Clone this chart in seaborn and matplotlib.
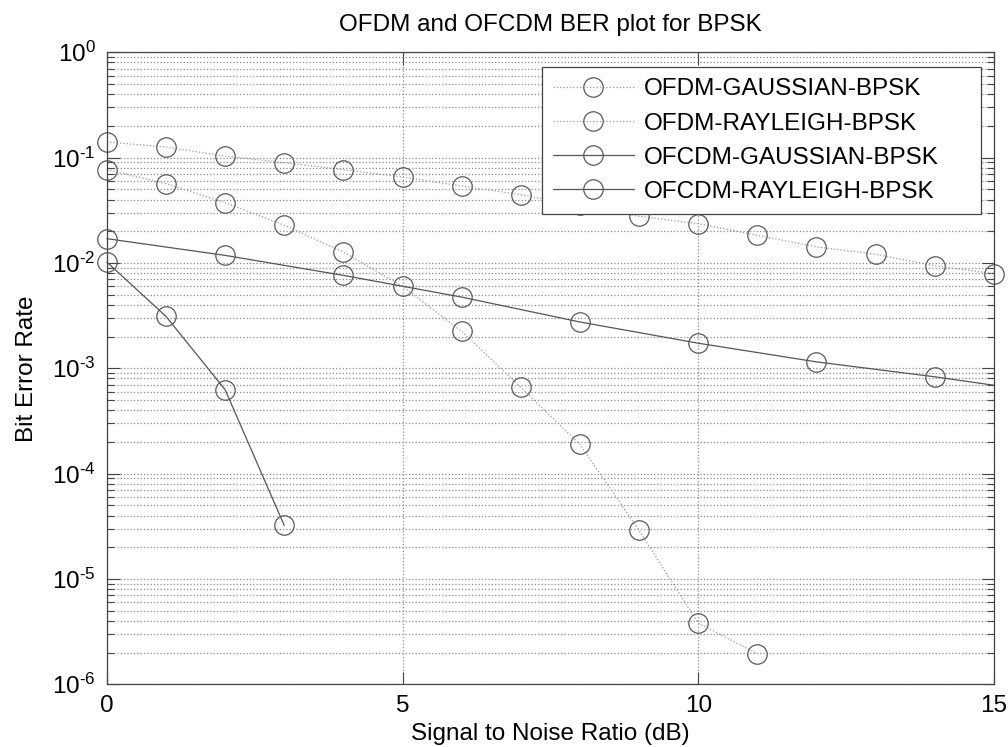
import numpy as np
import pandas as pd
import matplotlib
matplotlib.use("Agg")
import matplotlib.pyplot as plt
import seaborn as sns
from matplotlib.ticker import LogLocator, FixedLocator, NullFormatter, FuncFormatter

# ---- data ----
snr_ofdm_gauss = [0, 1, 2, 3, 4, 5, 6, 7, 8, 9, 10, 11, 12, 13, 14, 15]
ber_ofdm_gauss = [0.141, 0.126, 0.1035, 0.0896, 0.0769, 0.0655, 0.0537, 0.0445,
                  0.0352, 0.0277, 0.0236, 0.0183, 0.0142, 0.0121, 0.0094, 0.0079]

snr_ofdm_ray = [0, 1, 2, 3, 4, 5, 6, 7, 8, 9, 10, 11]
ber_ofdm_ray = [0.0769, 0.0566, 0.0374, 0.0228, 0.0127, 0.0060, 0.00224, 0.00066,
                0.000189, 2.89e-5, 3.81e-6, 1.95e-6]

snr_ofcdm_gauss = [0, 1, 2, 3]
ber_ofcdm_gauss = [0.0102, 0.00311, 0.000626, 3.22e-5]

snr_ofcdm_ray = [0, 2, 4, 6, 8, 10, 12, 14, 15]
ber_ofcdm_ray = [0.0170, 0.0118, 0.00762, 0.00474, 0.00275, 0.00173, 0.00115, 0.00083, 0.00069]

labels = ["OFDM-GAUSSIAN-BPSK", "OFDM-RAYLEIGH-BPSK",
          "OFCDM-GAUSSIAN-BPSK", "OFCDM-RAYLEIGH-BPSK"]

title = "OFDM and OFCDM BER plot for BPSK"
xlabel = "Signal to Noise Ratio (dB)"
ylabel = "Bit Error Rate"
xticks = [0, 5, 10, 15]

# ---- style ----
sns.set_style("ticks")
plt.rcParams['font.family'] = ['Liberation Sans', 'DejaVu Sans']
plt.rcParams['mathtext.fontset'] = 'custom'
plt.rcParams['mathtext.rm'] = 'Liberation Sans'
plt.rcParams['mathtext.it'] = 'Liberation Sans'
plt.rcParams['mathtext.bf'] = 'Liberation Sans'
plt.rcParams['text.color'] = 'black'
plt.rcParams['axes.labelcolor'] = 'black'

fig = plt.figure(figsize=(10.08, 7.47), dpi=100)
ax = fig.add_axes([0.106, 0.084, 0.880, 0.846])

dot_col = "#9a9a9a"
solid_col = "#555555"
mk_col = "#5a5a5a"
ms = 14
fs = 17.5

series = [
    (snr_ofdm_gauss, ber_ofdm_gauss, ":", dot_col, None),
    (snr_ofdm_ray, ber_ofdm_ray, ":", dot_col, None),
    (snr_ofcdm_gauss, ber_ofcdm_gauss, "-", solid_col, None),
    (snr_ofcdm_ray, ber_ofcdm_ray, "-", solid_col, list(range(len(snr_ofcdm_ray) - 1))),
]

for (xs, ys, ls, col, mev), lab in zip(series, labels):
    df = pd.DataFrame({"snr": xs, "ber": ys})
    kw = dict(x="snr", y="ber", data=df, ax=ax, color=col, linestyle=ls,
              linewidth=0.9, marker="o", markersize=ms, markerfacecolor="none",
              markeredgecolor=mk_col, markeredgewidth=0.9, label=lab,
              clip_on=False, sort=False, estimator=None)
    if mev is not None:
        kw["markevery"] = mev
    sns.lineplot(**kw)

ax.set_yscale("log")
ax.set_xlim(0, 15)
ax.set_ylim(1e-6, 1)
ax.xaxis.set_major_locator(FixedLocator(xticks))
ax.yaxis.set_major_locator(LogLocator(base=10, numticks=10))
ax.yaxis.set_minor_locator(LogLocator(base=10, subs=np.arange(2, 10), numticks=100))
ax.yaxis.set_minor_formatter(NullFormatter())


def sci_fmt(v, pos):
    e = int(round(np.log10(v)))
    if e < 0:
        return r"$10^{\text{-}%d}$" % (-e)
    return r"$10^{%d}$" % e


ax.yaxis.set_major_formatter(FuncFormatter(sci_fmt))

ax.grid(which="major", axis="both", linestyle=":", color="#8a8a8a", linewidth=0.9)
ax.grid(which="minor", axis="y", linestyle=":", color="#8a8a8a", linewidth=0.9)
ax.set_axisbelow(True)

for s in ax.spines.values():
    s.set_visible(True)
    s.set_color("#444444")
    s.set_linewidth(0.9)

ax.tick_params(which="both", direction="in", top=True, right=True,
               color="#444444", labelcolor="black", labelsize=fs)
ax.tick_params(which="major", length=9, width=0.8)
ax.tick_params(which="minor", length=5, width=0.8)
ax.tick_params(axis="x", pad=8)
ax.tick_params(axis="y", pad=8)

ax.set_title(title, fontsize=fs, pad=15)
ax.set_xlabel(xlabel, fontsize=fs, labelpad=4)
ax.set_ylabel(ylabel, fontsize=fs, labelpad=10)

leg = ax.legend(loc="upper left", bbox_to_anchor=(0.4904, 0.776, 0.4949, 0.2),
                mode="expand", fontsize=fs,
                frameon=True, fancybox=False, edgecolor="#444444",
                handlelength=3.33, handletextpad=0.4, borderpad=0.45,
                labelspacing=0.5, borderaxespad=0)
leg.get_frame().set_linewidth(0.9)
leg.get_frame().set_alpha(1)

fig.savefig("out.png", dpi=100)
